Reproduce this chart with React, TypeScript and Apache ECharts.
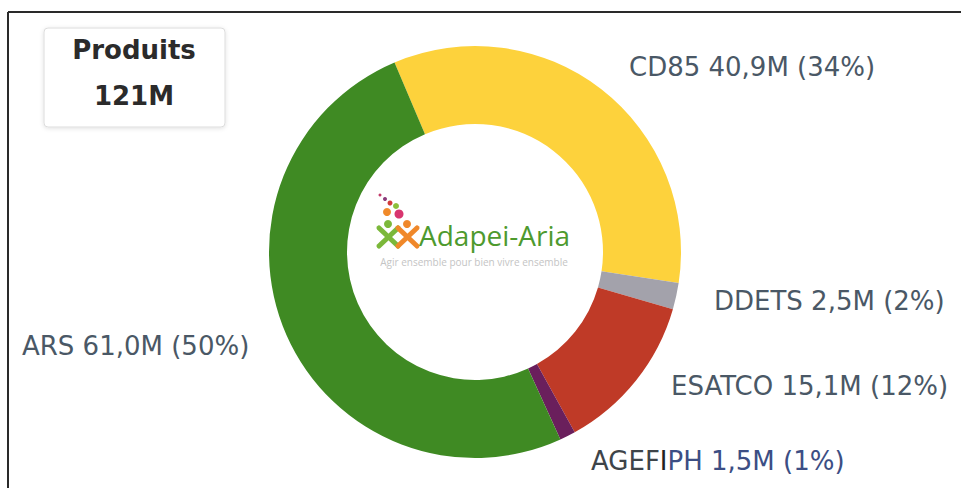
import React, { useEffect, useRef } from "react";
import * as echarts from "echarts";

const categories = ["CD85", "DDETS", "ESATCO", "AGEFIPH", "ARS"];
const values = [40.9, 2.5, 15.1, 1.5, 61.0];
const colors = ["#FDD23C", "#A3A2AB", "#BF3A27", "#6A1F5C", "#3F8A23"];
const cardTitle = "Produits";
const logoName = "Adapei-Aria";
const logoTagline = "Agir ensemble pour bien vivre ensemble";

const fmt = (v: number) => v.toFixed(1).replace(".", ",");

export default function App() {
  const ref = useRef<HTMLDivElement>(null);
  useEffect(() => {
    if (!ref.current) return;
    const chart = echarts.init(ref.current, null, { renderer: "svg" });
    const total = values.reduce((a, b) => a + b, 0);
    const labelPos: Record<string, [number, number]> = {
      CD85: [629, 67],
      DDETS: [714, 301],
      ESATCO: [671, 386],
      AGEFIPH: [591, 461],
      ARS: [22, 346],
    };
    const labelFont = "DejaVu Sans";
    const fs = 26;
    chart.setOption({
      animation: false,
      backgroundColor: "#ffffff",
      series: [
        {
          type: "pie",
          center: [475, 252],
          radius: [128, 206],
          startAngle: 113,
          clockwise: true,
          avoidLabelOverlap: false,
          labelLine: { show: false },
          data: categories.map((c, i) => ({
            name: c,
            value: values[i],
            itemStyle: { color: colors[i] },
          })),
          label: {
            show: true,
            position: "outside",
            fontFamily: labelFont,
            fontSize: fs,
            color: "#4A5866",
            formatter: (p: any) => {
              const txt = `${p.name} ${fmt(p.value)}M (${Math.round((p.value / total) * 100)}%)`;
              if (p.name === "AGEFIPH") {
                return `{a|AGEF}{c|I}{b|${txt.slice(5)}}`;
              }
              return txt;
            },
            rich: {
              a: { fontFamily: labelFont, fontSize: fs, color: "#3E4449" },
              c: { fontFamily: labelFont, fontSize: fs, color: "#222222" },
              b: { fontFamily: labelFont, fontSize: fs, color: "#3C4E84" },
            },
          },
          labelLayout: (params: any) => {
            const name = categories[params.dataIndex];
            const pos = labelPos[name];
            return { x: pos[0], y: pos[1], align: "left", verticalAlign: "middle" };
          },
        },
      ],
      graphic: [
        {
          type: "line",
          shape: { x1: 8, y1: 12, x2: 961, y2: 12 },
          style: { stroke: "#2a2a2a", lineWidth: 2 },
        },
        {
          type: "line",
          shape: { x1: 8, y1: 12, x2: 8, y2: 488 },
          style: { stroke: "#2a2a2a", lineWidth: 2 },
        },
        {
          type: "rect",
          shape: { x: 44, y: 28, width: 181, height: 99, r: 4 },
          style: {
            fill: "#ffffff",
            stroke: "#dcdcdc",
            lineWidth: 1,
            shadowBlur: 4,
            shadowColor: "rgba(0,0,0,0.12)",
            shadowOffsetY: 1,
          },
        },
        {
          type: "text",
          x: 134,
          y: 50,
          style: {
            text: cardTitle,
            fontFamily: "DejaVu Sans",
            fontWeight: "bold",
            fontSize: 26,
            fill: "#2b2b2b",
            align: "center",
            verticalAlign: "middle",
          },
        },
        {
          type: "text",
          x: 134,
          y: 96,
          style: {
            text: `${Math.round(total)}M`,
            fontFamily: "DejaVu Sans",
            fontWeight: "bold",
            fontSize: 26,
            fill: "#2b2b2b",
            align: "center",
            verticalAlign: "middle",
          },
        },
        // logo dots
        { type: "circle", shape: { cx: 380, cy: 195, r: 1.5 }, style: { fill: "#c23a6a" } },
        { type: "circle", shape: { cx: 385, cy: 199, r: 2 }, style: { fill: "#8a3a7a" } },
        { type: "circle", shape: { cx: 390, cy: 203, r: 2.5 }, style: { fill: "#d23a3a" } },
        { type: "circle", shape: { cx: 396, cy: 206, r: 3 }, style: { fill: "#8cbf3a" } },
        { type: "circle", shape: { cx: 387, cy: 212, r: 4 }, style: { fill: "#f08a2a" } },
        { type: "circle", shape: { cx: 399, cy: 214, r: 4.5 }, style: { fill: "#d8356f" } },
        // green figure
        { type: "circle", shape: { cx: 388, cy: 224, r: 4 }, style: { fill: "#7bb83a" } },
        {
          type: "polyline",
          shape: { points: [[379, 228], [398, 246]] },
          style: { stroke: "#7bb83a", lineWidth: 5, lineCap: "round" },
        },
        {
          type: "polyline",
          shape: { points: [[398, 228], [379, 246]] },
          style: { stroke: "#7bb83a", lineWidth: 5, lineCap: "round" },
        },
        // orange figure
        { type: "circle", shape: { cx: 407, cy: 224, r: 4 }, style: { fill: "#f0882a" } },
        {
          type: "polyline",
          shape: { points: [[398, 228], [417, 246]] },
          style: { stroke: "#f0882a", lineWidth: 5, lineCap: "round" },
        },
        {
          type: "polyline",
          shape: { points: [[417, 228], [398, 246]] },
          style: { stroke: "#f0882a", lineWidth: 5, lineCap: "round" },
        },
        {
          type: "text",
          x: 419,
          y: 235,
          style: {
            text: logoName,
            fontFamily: "Open Sans",
            fontSize: 28,
            fill: "#4E9A2E",
            align: "left",
            verticalAlign: "middle",
          },
        },
        {
          type: "text",
          x: 474,
          y: 262,
          style: {
            text: logoTagline,
            fontFamily: "Open Sans",
            fontSize: 10,
            fill: "#c4c4c4",
            align: "center",
            verticalAlign: "middle",
          },
        },
      ],
    });
    return () => chart.dispose();
  }, []);
  return (
    <div
      ref={ref}
      style={{ position: "fixed", left: 0, top: 0, width: 961, height: 488 }}
    />
  );
}
